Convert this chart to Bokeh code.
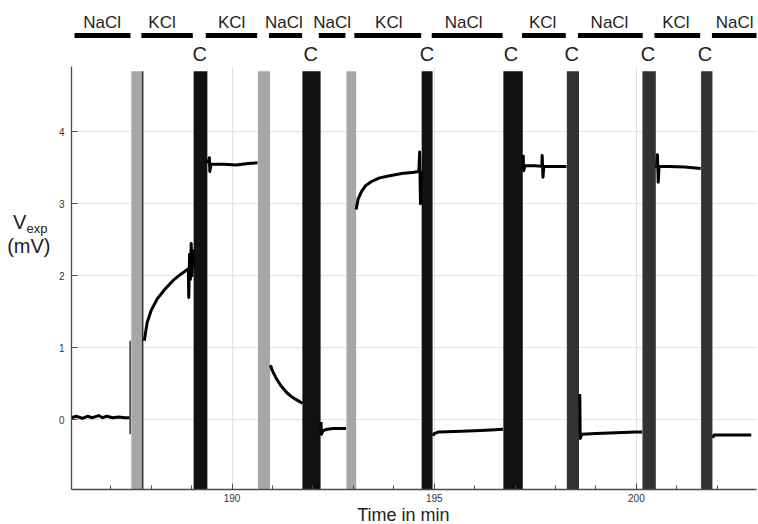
from bokeh.plotting import figure
from bokeh.layouts import column, row
from bokeh.models import FixedTicker, Range1d
from bokeh.core.properties import value
from bokeh.embed import file_html
from bokeh.resources import INLINE

FONT = "Liberation Sans"
TXT = "#222222"

# ---------------- data ----------------
x_start, x_end = 186.03, 202.97
y_start, y_end = -0.967, 4.907

x_major = [190, 195, 200]
x_minor = [187, 188, 189, 191, 192, 193, 194, 196, 197, 198, 199, 201, 202]
y_major = [0, 1, 2, 3, 4]

# switching bands (min)
gray_left = [187.51, 190.64, 192.83]
gray_right = [187.80, 190.94, 193.07]
black_left = [189.05, 191.74, 194.69, 196.71]
black_right = [189.39, 192.19, 194.96, 197.19]
dark_left = [198.28, 200.15, 201.60]
dark_right = [198.58, 200.48, 201.88]
band_top = 4.84

# solution bars above the plot
sol_names = ["NaCl", "KCl", "KCl", "NaCl", "NaCl", "KCl", "NaCl", "KCl", "NaCl", "KCl", "NaCl"]
sol_start = [186.13, 187.78, 189.37, 190.93, 192.16, 193.04, 194.95, 197.18, 198.56, 200.45, 201.87]
sol_end = [187.51, 189.05, 190.64, 191.75, 192.82, 194.69, 196.70, 198.26, 200.16, 201.58, 203.1]
sol_label_x = [186.81, 188.29, 190.01, 191.30, 192.49, 193.89, 195.74, 197.69, 199.34, 200.98, 202.43]
c_label_x = [189.22, 191.96, 194.83, 196.91, 198.41, 200.29, 201.70]

# recorded trace, segment by segment (time in min, V_exp in mV)
seg1_t = [186.03, 186.15, 186.3, 186.42, 186.55, 186.7, 186.8, 186.9, 187.05, 187.2, 187.35, 187.46]
seg1_v = [0.03, 0.05, 0.02, 0.05, 0.03, 0.06, 0.03, 0.05, 0.03, 0.04, 0.03, 0.03]
seg2_t = [187.83, 187.90, 188.00, 188.15, 188.35, 188.55, 188.75, 188.90, 188.92, 188.93, 188.95,
          188.97, 188.99, 189.01, 189.03, 189.05]
seg2_v = [1.10, 1.35, 1.52, 1.68, 1.82, 1.94, 2.03, 2.09, 2.10, 1.70, 2.30, 1.95, 2.45, 2.00, 2.35, 2.12]
seg3_t = [189.40, 189.44, 189.45, 189.48, 189.8, 190.1, 190.4, 190.63]
seg3_v = [3.56, 3.64, 3.45, 3.55, 3.55, 3.54, 3.56, 3.57]
seg4_t = [190.95, 191.00, 191.10, 191.20, 191.35, 191.50, 191.65, 191.74]
seg4_v = [0.76, 0.68, 0.57, 0.48, 0.38, 0.31, 0.26, 0.23]
seg5_t = [192.20, 192.21, 192.25, 192.35, 192.50, 192.70, 192.82]
seg5_v = [-0.03, -0.20, -0.15, -0.13, -0.12, -0.12, -0.12]
seg6_t = [193.07, 193.12, 193.20, 193.30, 193.45, 193.65, 193.90, 194.20, 194.50, 194.62, 194.64, 194.66, 194.68]
seg6_v = [2.92, 3.07, 3.17, 3.25, 3.31, 3.36, 3.39, 3.42, 3.44, 3.45, 3.72, 3.00, 3.46]
seg7_t = [194.97, 195.00, 195.10, 195.50, 196.00, 196.40, 196.70]
seg7_v = [-0.22, -0.19, -0.17, -0.16, -0.15, -0.14, -0.13]
seg8_t = [197.20, 197.21, 197.25, 197.50, 197.66, 197.67, 197.69, 197.71, 198.00, 198.27]
seg8_v = [3.68, 3.46, 3.53, 3.53, 3.52, 3.67, 3.37, 3.52, 3.52, 3.52]
seg9_t = [198.60, 198.61, 198.65, 199.00, 199.50, 200.00, 200.14]
seg9_v = [0.36, -0.26, -0.20, -0.19, -0.18, -0.17, -0.17]
seg10_t = [200.50, 200.52, 200.54, 200.56, 200.80, 201.20, 201.59]
seg10_v = [3.50, 3.68, 3.30, 3.52, 3.52, 3.51, 3.49]
seg11_t = [201.89, 201.92, 202.30, 202.84]
seg11_v = [-0.25, -0.21, -0.21, -0.21]

# vertical excursions of the trace at band edges
edge_t = [187.48, 187.79]
edge_lo = [-0.20, -0.97]
edge_hi = [1.10, 4.84]

# axis label texts
y_label_main, y_label_sub, y_label_unit = "V", "exp", "(mV)"
x_label = "Time in min"

# ---------------- layout geometry (pixels) ----------------
W = 758
TOP_H = 66
MAIN_H = 440
BOT_H = 524 - TOP_H - MAIN_H
LEFT_W = 55
FRAME_L = 70
FRAME_R_PAD = 2

# ---------------- main plot ----------------
p = figure(width=W - LEFT_W, height=MAIN_H, x_range=Range1d(x_start, x_end),
           y_range=Range1d(y_start, y_end),
           toolbar_location=None, output_backend="svg",
           min_border_left=FRAME_L - LEFT_W, min_border_right=FRAME_R_PAD,
           min_border_top=0, min_border_bottom=17)
p.outline_line_color = None

p.xaxis.ticker = FixedTicker(ticks=x_major, minor_ticks=x_minor)
p.yaxis.ticker = FixedTicker(ticks=y_major, minor_ticks=[])
p.xgrid.ticker = FixedTicker(ticks=x_major)
p.ygrid.ticker = FixedTicker(ticks=y_major)
p.grid.grid_line_color = "#e2e2e2"
p.grid.grid_line_width = 1

for ax in (p.xaxis, p.yaxis):
    ax.axis_line_color = "#4a4a4a"
    ax.axis_line_width = 1.3
    ax.major_tick_line_color = "#4a4a4a"
    ax.minor_tick_line_color = "#4a4a4a"
    ax.major_tick_in = 6
    ax.major_tick_out = 0
    ax.minor_tick_in = 4
    ax.minor_tick_out = 0
    ax.major_label_text_font = FONT
    ax.major_label_text_font_size = "10px"
    ax.major_label_text_color = "#333333"
p.xaxis.major_label_standoff = 4
p.yaxis.major_label_standoff = 7

p.quad(left=gray_left, right=gray_right, bottom=y_start - 1, top=band_top,
       fill_color="#a7a7a7", line_color=None)
p.quad(left=black_left, right=black_right, bottom=y_start - 1, top=band_top,
       fill_color="#111111", line_color=None)
p.quad(left=dark_left, right=dark_right, bottom=y_start - 1, top=band_top,
       fill_color="#333333", line_color=None)

p.segment(x0=edge_t, x1=edge_t, y0=edge_lo, y1=edge_hi, line_color="#333333", line_width=1.5)

xs = [seg1_t, seg2_t, seg3_t, seg4_t, seg5_t, seg6_t, seg7_t, seg8_t, seg9_t, seg10_t, seg11_t]
ys = [seg1_v, seg2_v, seg3_v, seg4_v, seg5_v, seg6_v, seg7_v, seg8_v, seg9_v, seg10_v, seg11_v]
p.multi_line(xs=xs, ys=ys, line_color="black", line_width=3.0, line_join="round")

# ---------------- left strip: y label ----------------
left = figure(width=LEFT_W, height=MAIN_H, x_range=Range1d(0, LEFT_W), y_range=Range1d(0, MAIN_H),
              toolbar_location=None, output_backend="svg",
              x_axis_location=None, y_axis_location=None,
              min_border_left=0, min_border_right=0, min_border_top=0, min_border_bottom=0)
left.outline_line_color = None
left.grid.visible = False
# y coordinates here: pixels up from the bottom of this strip (strip bottom = page y 506)
left.text(x=[12.5], y=[506 - 227.5], text=[y_label_main], text_font=value(FONT),
          text_font_size="20px", text_align="left", text_baseline="middle", text_color=TXT)
left.text(x=[26.0], y=[506 - 234.5], text=[y_label_sub], text_font=value(FONT),
          text_font_size="13px", text_align="left", text_baseline="middle", text_color=TXT)
left.text(x=[28.3], y=[506 - 253.0], text=[y_label_unit], text_font=value(FONT),
          text_font_size="20px", text_align="center", text_baseline="middle", text_color=TXT)

# ---------------- top strip with solutions ----------------
top = figure(width=W, height=TOP_H, x_range=p.x_range, y_range=Range1d(0, TOP_H),
             toolbar_location=None, output_backend="svg",
             x_axis_location=None, y_axis_location=None,
             min_border_left=FRAME_L, min_border_right=FRAME_R_PAD, min_border_top=0, min_border_bottom=0)
top.outline_line_color = None
top.grid.visible = False
top.segment(x0=sol_start, x1=sol_end, y0=[TOP_H - 35] * len(sol_start), y1=[TOP_H - 35] * len(sol_start),
            line_color="black", line_width=5)
top.text(x=sol_label_x, y=[TOP_H - 22] * len(sol_label_x), text=sol_names, text_font=value(FONT),
         text_font_size="17px", text_align="center", text_baseline="middle", text_color=TXT)
top.text(x=c_label_x, y=[TOP_H - 53.5] * len(c_label_x), text=["C"] * len(c_label_x), text_font=value(FONT),
         text_font_size="20px", text_align="center", text_baseline="middle", text_color=TXT)

# ---------------- bottom strip: x label ----------------
bottom = figure(width=W, height=BOT_H, x_range=p.x_range, y_range=Range1d(0, BOT_H),
                toolbar_location=None, output_backend="svg",
                x_axis_location=None, y_axis_location=None,
                min_border_left=FRAME_L, min_border_right=FRAME_R_PAD, min_border_top=0, min_border_bottom=0)
bottom.outline_line_color = None
bottom.grid.visible = False
bottom.text(x=[194.25], y=[524 - 514.0], text=[x_label], text_font=value(FONT),
            text_font_size="18px", text_align="center", text_baseline="middle", text_color=TXT)

layout = column(top, row(left, p, spacing=0), bottom, spacing=0)
open("out.html", "w").write(file_html(layout, INLINE))
